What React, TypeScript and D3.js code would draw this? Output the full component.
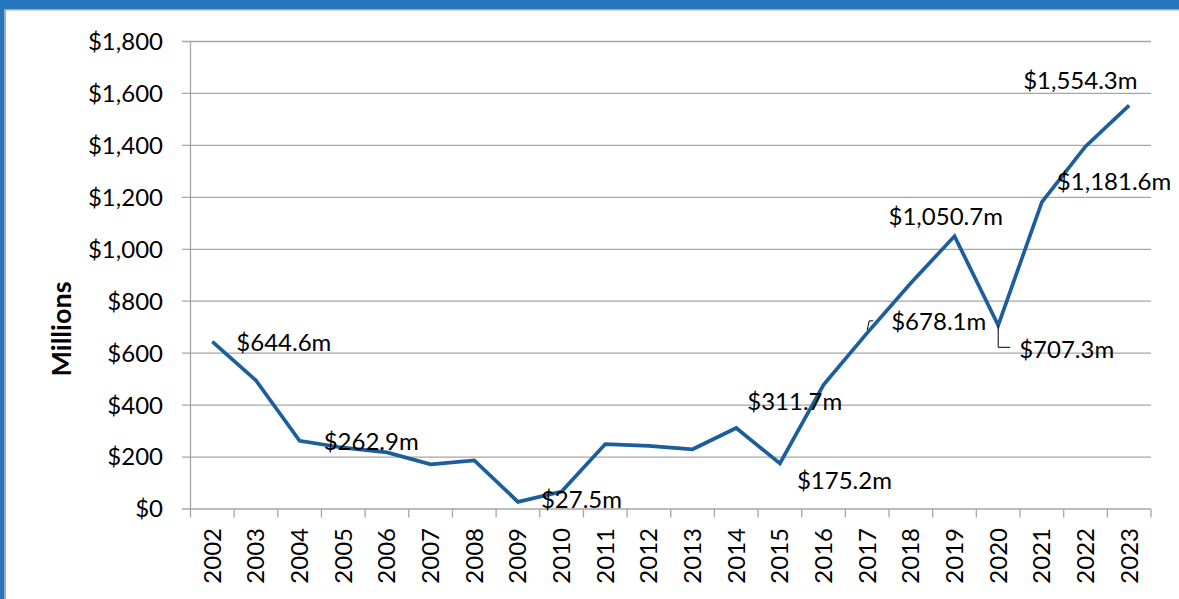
import React from "react";
import * as d3 from "d3";

const years = ["2002","2003","2004","2005","2006","2007","2008","2009","2010","2011","2012","2013","2014","2015","2016","2017","2018","2019","2020","2021","2022","2023"];
const values = [644.6, 495, 262.9, 236, 218, 172, 187, 27.5, 67, 250, 243, 230, 311.7, 175.2, 478, 678.1, 870, 1050.7, 707.3, 1181.6, 1396, 1554.3];
const yTicks = [0, 200, 400, 600, 800, 1000, 1200, 1400, 1600, 1800];
const labeledYears = ["2002","2004","2009","2014","2015","2017","2019","2020","2021","2023"];

// label placement (style): dx from point to text start, dy to text middle
const labelPlacement: Record<string, { dx: number; dy: number; leader?: string }> = {
  "2002": { dx: 24, dy: 1 },
  "2004": { dx: 24, dy: 1 },
  "2009": { dx: 23, dy: -2 },
  "2014": { dx: 11, dy: -26 },
  "2015": { dx: 17, dy: 17 },
  "2017": { dx: 24, dy: -11, leader: "corner-up" },
  "2019": { dx: -66, dy: -20 },
  "2020": { dx: 21, dy: 24, leader: "corner-down" },
  "2021": { dx: 15, dy: -21 },
  "2023": { dx: -106, dy: -25 },
};

const W = 1179, H = 599;
const L = 190.5, R = 1151, T = 41.5, B = 509;

export default function App() {
  const x = d3.scaleBand<string>().domain(years).range([L, R]);
  const y = d3.scaleLinear().domain([0, 1800]).range([B, T]);
  const cx = (yr: string) => (x(yr) as number) + x.bandwidth() / 2;
  const line = d3.line<number>().x((_, i) => cx(years[i])).y((d) => y(d));
  const fmtTick = (v: number) => "$" + d3.format(",")(v);
  const fmtLab = (v: number) => "$" + d3.format(",.1f")(v) + "m";
  const font = "Lato, 'Open Sans', sans-serif";
  const grid = "#a6a6a6";
  const boundaries = [...years.map((yr) => x(yr) as number), R];

  return (
    <svg width={W} height={H} style={{ position: "absolute", left: 0, top: 0, background: "#fff" }} fontFamily={font}>
      <rect x={0} y={0} width={W} height={H} fill="#fff" />
      {/* frame */}
      <rect x={0} y={0} width={W} height={9} fill="#2675bc" />
      <rect x={0} y={0} width={4.5} height={H} fill="#2675bc" />
      <line x1={4.5} x2={W} y1={9.8} y2={9.8} stroke="#a8a8a8" strokeWidth={1.6} />
      <line x1={5.3} x2={5.3} y1={9} y2={H} stroke="#a8a8a8" strokeWidth={1.6} />

      {/* gridlines and y ticks */}
      {yTicks.map((t) => (
        <g key={t}>
          <line x1={182} x2={R} y1={y(t)} y2={y(t)} stroke={grid} strokeWidth={1.3} />
          <text x={163} y={y(t)} dy="0.35em" textAnchor="end" fontSize={24} fill="#000">{fmtTick(t)}</text>
        </g>
      ))}
      {/* y axis line */}
      <line x1={L} x2={L} y1={T} y2={B} stroke={grid} strokeWidth={1.3} />
      {/* x axis ticks */}
      {boundaries.map((b, i) => (
        <line key={i} x1={b} x2={b} y1={B} y2={B + 8.5} stroke={grid} strokeWidth={1.3} />
      ))}
      {/* x labels */}
      {years.map((yr) => (
        <text key={yr} transform={`translate(${cx(yr) + 8.5},${528}) rotate(-90)`} textAnchor="end" fontSize={24} fill="#000">{yr}</text>
      ))}
      {/* axis title */}
      <text transform={`translate(71,329) rotate(-90)`} textAnchor="middle" fontSize={27} fontWeight="bold" fill="#000">Millions</text>

      {/* data line */}
      <path d={line(values) || ""} fill="none" stroke="#1c5d9c" strokeWidth={3.7} strokeLinejoin="miter" />

      {/* data labels */}
      {labeledYears.map((yr) => {
        const i = years.indexOf(yr);
        const px = cx(yr), py = y(values[i]);
        const p = labelPlacement[yr];
        const tx = px + p.dx, ty = py + p.dy;
        let leader: React.ReactNode = null;
        if (p.leader === "corner-up") {
          leader = <path d={`M${px},${py - 3} L${px + 2},${ty - 1} L${px + 6},${ty - 1}`} fill="none" stroke="#000" strokeWidth={1} />;
        } else if (p.leader === "corner-down") {
          leader = <path d={`M${px},${py} L${px},${ty - 2} L${px + 12},${ty - 2}`} fill="none" stroke="#000" strokeWidth={1} />;
        }
        return (
          <g key={yr}>
            {leader}
            <text x={tx} y={ty} dy="0.35em" fontSize={24} fill="#000">{fmtLab(values[i])}</text>
          </g>
        );
      })}
    </svg>
  );
}
